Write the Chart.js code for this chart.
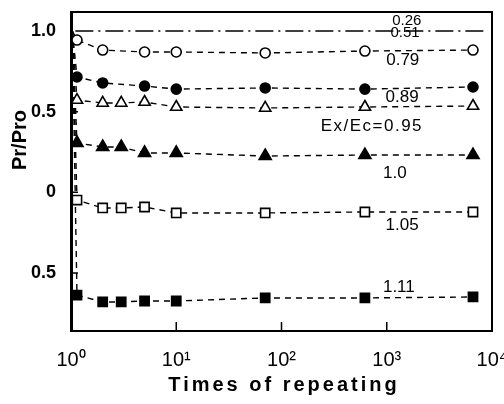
<!DOCTYPE html>
<html>
<head>
<meta charset="utf-8">
<script src="https://cdn.jsdelivr.net/npm/chart.js@4"></script>
<style>
  body { margin: 0; background: #fff; }
  canvas { display: block; }
</style>
</head>
<body>
<canvas id="js--chart" width="504" height="404"></canvas>
<script>
// axis ticks
const xTickValues = [1, 10, 100, 1000, 10000];
const xTickLabels = ["10⁰", "10¹", "10²", "10³", "10⁴"];
const yTickValues = [1.0, 0.5, 0, -0.5];
const yTickLabels = ["1.0", "0.5", "0", "0.5"];

// Ex/Ec values written next to the curves
const ratioLabels = ["0.26", "0.51", "0.79", "0.89", "Ex/Ec=0.95", "1.0", "1.05", "1.11"];

// times of repeating (first point = start at Pr/Pro 1.0)
const refX = [1.1, 8500];
const xShort = [1.03, 1.14, 2, 5, 10, 70, 620, 6600];
const xLong = [1.03, 1.14, 2, 3, 5, 10, 70, 620, 6600];

// Pr/Pro
const refY = [1.0, 1.0];                 // 0.26 and 0.51
const circleOpenY = [1.0, 0.944, 0.882, 0.870, 0.870, 0.864, 0.876, 0.882];     // 0.79
const circleFilledY = [1.0, 0.715, 0.678, 0.659, 0.640, 0.647, 0.640, 0.653];   // 0.89
const triOpenY = [1.0, 0.572, 0.554, 0.554, 0.560, 0.529, 0.523, 0.529, 0.535]; // 0.95
const triFilledY = [1.0, 0.306, 0.281, 0.281, 0.244, 0.244, 0.225, 0.231, 0.231]; // 1.0
const sqOpenY = [1.0, -0.048, -0.097, -0.097, -0.091, -0.128, -0.128, -0.122, -0.122]; // 1.05
const sqFilledY = [1.0, -0.637, -0.680, -0.680, -0.674, -0.674, -0.655, -0.655, -0.649]; // 1.11

function points(xs, ys) {
  return xs.map(function (x, i) { return { x: x, y: ys[i] }; });
}

function series(xs, ys, style, filled, r) {
  return {
    data: points(xs, ys),
    borderColor: "#000",
    borderWidth: 1.4,
    borderDash: [6, 5],
    pointStyle: style,
    pointRadius: xs.map(function (x, i) { return i === 0 ? 0 : r; }),
    pointBackgroundColor: filled ? "#000" : "#fff",
    pointBorderColor: "#000",
    pointBorderWidth: 1.6,
    tension: 0,
    fill: false
  };
}

// where the Ex/Ec labels sit, in data units
const labelSpots = [
  [1550, 1.062], [1490, 0.988], [1420, 0.820], [1400, 0.591],
  [722, 0.411], [1194, 0.120], [1400, -0.203], [1303, -0.587]
];

// no extra room for the end tick labels
function noPad(s) {
  s.paddingTop = 0;
  s.paddingBottom = 0;
  s.paddingLeft = 0;
  s.paddingRight = 0;
}

const decor = {
  id: "decor",
  afterDraw: function (chart) {
    const ctx = chart.ctx;
    const a = chart.chartArea;
    const x = chart.scales.x;
    const y = chart.scales.y;
    ctx.save();
    ctx.strokeStyle = "#000";
    ctx.lineWidth = 2;
    ctx.beginPath();
    ctx.moveTo(a.left, a.top);
    ctx.lineTo(a.right, a.top);
    ctx.lineTo(a.right, a.bottom);
    ctx.stroke();

    // inward ticks
    ctx.lineWidth = 1.5;
    ctx.beginPath();
    xTickValues.slice(1, -1).forEach(function (v) {
      const px = x.getPixelForValue(v);
      ctx.moveTo(px, a.bottom);
      ctx.lineTo(px, a.bottom - 9);
    });
    yTickValues.slice(1).forEach(function (v) {
      const py = y.getPixelForValue(v);
      ctx.moveTo(a.left, py);
      ctx.lineTo(a.left + 7, py);
    });
    ctx.stroke();

    ctx.fillStyle = "#000";
    ctx.textAlign = "center";
    ctx.textBaseline = "middle";
    labelSpots.forEach(function (p, i) {
      ctx.font = (i < 2 ? "15px" : "17px") + ' "Liberation Sans Narrow", "Liberation Sans", sans-serif';
      ctx.letterSpacing = i === 4 ? "1.5px" : "0px";
      ctx.fillText(ratioLabels[i], x.getPixelForValue(p[0]), y.getPixelForValue(p[1]));
    });

    // axis titles
    ctx.font = 'bold 20px "Liberation Sans", sans-serif';
    ctx.textBaseline = "alphabetic";
    ctx.letterSpacing = "3px";
    ctx.fillText("Times of repeating", 284, 391);
    ctx.letterSpacing = "0px";
    ctx.translate(26, 140);
    ctx.rotate(-Math.PI / 2);
    ctx.fillText("Pr/Pro", 0, 0);
    ctx.restore();
  }
};

const refLine = {
  data: points(refX, refY),
  borderColor: "#000",
  borderWidth: 1.4,
  borderDash: [18, 5, 2, 5],
  pointRadius: 0,
  fill: false
};

const config = {
  type: "line",
  data: {
    datasets: [
      refLine,
      series(xShort, circleOpenY, "circle", false, 5),
      series(xShort, circleFilledY, "circle", true, 5),
      series(xLong, triOpenY, "triangle", false, 6.5),
      series(xLong, triFilledY, "triangle", true, 7),
      series(xLong, sqOpenY, "rect", false, 6.5),
      series(xLong, sqFilledY, "rect", true, 6.5)
    ]
  },
  options: {
    responsive: false,
    animation: false,
    devicePixelRatio: 1,
    layout: { autoPadding: false, padding: { left: 0, right: 12, top: 12, bottom: 0 } },
    plugins: { legend: { display: false }, tooltip: { enabled: false } },
    scales: {
      x: {
        type: "logarithmic",
        min: 1,
        max: 10000,
        grid: { display: false },
        border: { display: true, color: "#000", width: 2 },
        ticks: {
          color: "#000",
          padding: 9,
          maxRotation: 0,
          autoSkip: false,
          font: { family: '"Liberation Sans", sans-serif', size: 20 },
          callback: function (v) { return xTickLabels[xTickValues.indexOf(v)]; }
        },
        afterBuildTicks: function (s) {
          s.ticks = xTickValues.map(function (v) { return { value: v }; });
        },
        afterFit: function (s) { s.height = 73; noPad(s); }
      },
      y: {
        type: "linear",
        min: -0.86,
        max: 1.118,
        grid: { display: false },
        border: { display: true, color: "#000", width: 3 },
        ticks: {
          color: "#000",
          padding: 7,
          font: { family: '"Liberation Sans", sans-serif', size: 18, weight: "bold" },
          callback: function (v) { return yTickLabels[yTickValues.indexOf(v)]; }
        },
        afterBuildTicks: function (s) {
          s.ticks = yTickValues.map(function (v) { return { value: v }; });
        },
        afterFit: function (s) { s.width = 71; noPad(s); }
      }
    }
  },
  plugins: [decor]
};

new Chart(document.getElementById("js--chart"), config);
</script>
</body>
</html>
